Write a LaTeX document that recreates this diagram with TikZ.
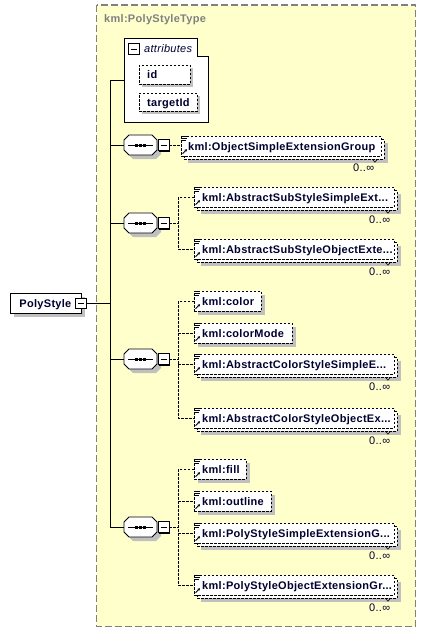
\documentclass[tikz,border=0pt]{standalone}
\usepackage{fontspec}
\setmainfont{Liberation Sans}[LetterSpace=2.7]
\usetikzlibrary{shadows,calc,arrows.meta}
\definecolor{bgyellow}{RGB}{255,255,204}
\definecolor{shgray}{RGB}{192,192,192}
\definecolor{txt}{RGB}{0,0,48}
\definecolor{framegray}{RGB}{128,128,128}
\tikzset{
  base/.style={font=\fontsize{11}{13}\selectfont\bfseries, text=txt, text height=9pt, text depth=1pt},
  dsh/.style={dash pattern=on 2.5pt off 1.5pt},
  shad/.style={general shadow={shadow xshift=#1, shadow yshift=-#1, fill=shgray, draw=none}},
  elem/.style={base, draw, dsh, fill=white, anchor=west, minimum height=20pt, inner sep=0pt,
    text width=#1, align=left, shad=4pt},
  melem/.style={base, draw, dsh, fill=white, anchor=west, minimum height=20pt, inner sep=0pt,
    text width=#1, align=left, shad=7pt,
    general shadow={shadow xshift=3pt, shadow yshift=-3pt, fill=white, draw=black, dsh}},
  attel/.style={base, draw, dsh, fill=white, anchor=west, inner sep=0pt, text width=#1, align=left, shad=3pt},
  mult/.style={font=\fontsize{11}{13}\selectfont, text=txt, anchor=base east, inner sep=0pt},
  conn/.style={dsh, line width=0.9pt},
  trunk/.style={line width=1pt},
  seqpic/.pic={
    \fill[shgray] (9,-6)--(32,-6)--(37,-1)--(37,9)--(32,14)--(9,14)--(4,9)--(4,-1)--cycle;
    \draw[fill=white, line width=0.8pt] (5,-10)--(28,-10)--(33,-5)--(33,5)--(28,10)--(5,10)--(0,5)--(0,-5)--cycle;
    \draw[line width=0.8pt] (4,0)--(29,0);
    \fill (11,-1.5) rectangle ++(3,3);
    \fill (15,-1.5) rectangle ++(3,3);
    \fill (19,-1.5) rectangle ++(3,3);
    \fill (35,-4.5) rectangle (46,6.5);
    \draw[fill=white, line width=0.8pt] (34,-5.5) rectangle (45,5.5);
    \draw[line width=0.8pt] (36.5,0)--(42.5,0);
    \coordinate (-in) at (0,0);
    \coordinate (-out) at (45,0);
  }
}
\newcommand\elicons[1]{%
  \draw[line width=0.7pt] ([xshift=1pt,yshift=-0.8pt]#1.north west) -- ++(5,0);
  \draw[line width=0.7pt] ([xshift=1pt,yshift=-2.8pt]#1.north west) -- ++(5,0);
  \draw[line width=0.7pt] ([xshift=1pt,yshift=-4.8pt]#1.north west) -- ++(4,0);
  \draw[line width=0.8pt, -{Stealth[length=2.6pt,width=2.8pt]}] ([xshift=1.5pt,yshift=2.5pt]#1.south west) -- ++(4.5,-4.5);
}
\newcommand\notch[1]{%
  \draw[line width=0.6pt] ([xshift=-9pt,yshift=-3pt]#1.south east) -- ++(2.5,3) -- ++(2.5,-3);
}
\begin{document}
\begin{tikzpicture}[x=1pt,y=-1pt]
\useasboundingbox (0,0) rectangle (426,632);
% outer type frame
\draw[fill=bgyellow, draw=framegray, line width=1.3pt, dash pattern=on 7pt off 3pt] (96.5,5) rectangle (415.5,626.5);
\node[font=\fontsize{11}{13}\selectfont\bfseries, text=framegray, anchor=base west, inner sep=0pt] (title) at (104,22) {kml:PolyStyleType};

% attributes box
\draw[fill=white, line width=0.9pt] (124,38) -- (197,38) -- (197,56) -- (208,56) -- (208,122) -- (124,122) -- cycle;
\draw[fill=white, line width=0.9pt] (128,43.5) rectangle (139,54.5);
\draw[line width=0.8pt] (130.5,49) -- (136.5,49);
\node[font=\fontsize{11}{13}\selectfont\itshape, text=txt, anchor=base west, inner sep=0pt] (attrlbl) at (144,52.5) {attributes};
\coordinate (attr) at (124,80);
\node[attel=51pt, minimum height=19pt] (aid) at (139,74.5) {\hspace*{8pt}id};
\node[attel=58pt, minimum height=18pt] (atid) at (139,102) {\hspace*{8pt}targetId};

% root element
\node[base, draw, fill=white, anchor=west, minimum height=20pt, text width=71pt, inner sep=0pt, align=left, shad=4pt, line width=0.9pt] (ps) at (10,303) {\hspace*{9pt}PolyStyle};
\node[draw, fill=white, minimum size=10.5pt, inner sep=0pt, line width=0.9pt] (psm) at (81,303.5) {};
\draw[line width=0.8pt] ($(psm.center)+(-3,0)$) -- ($(psm.center)+(3,0)$);

% trunk
\coordinate (ttop) at (110,80);
\coordinate (tbot) at (110,527);
\coordinate (tps) at (110,303.5);
\draw[trunk] (ttop) -- (tbot);
\draw[trunk] (psm.east) -- (tps);
\draw[trunk] (ttop) -- (attr);

% sequences
\pic (s1) at (124,145) {seqpic};
\pic (s2) at (124,223) {seqpic};
\pic (s3) at (124,359) {seqpic};
\pic (s4) at (124,527) {seqpic};
\foreach \s in {s1,s2,s3,s4}{\draw[trunk] (\s-in -| ttop) -- (\s-in);}

% branch coordinates
\coordinate (b2) at (178,223);
\coordinate (b3) at (178,359);
\coordinate (b4) at (178,527);

% sequence 1
\node[melem=200pt] (e1) at (181,146) {\hspace*{7pt}kml:ObjectSimpleExtensionGroup};
\elicons{e1}\notch{e1}
\node[mult] (m1) at ($(e1.south east)+(-7,15)$) {0..∞};
\draw[conn] (s1-out) -- (s1-out -| e1.west);

% sequence 2
\node[melem=200pt] (e2) at (194,197) {\hspace*{8pt}kml:AbstractSubStyleSimpleExt...};
\node[melem=200pt] (e3) at (194,249) {\hspace*{8pt}kml:AbstractSubStyleObjectExte...};
\foreach \e in {e2,e3}{\elicons{\e}\notch{\e}\node[mult] at ($(\e.south east)+(-4,16)$) {0..∞};}
\draw[conn] (s2-out) -- (b2);
\draw[conn] (e2.west) -- (e2.west -| b2) -- (e3.west -| b2) -- (e3.west);

% sequence 3
\node[elem=67pt] (e4) at (194,301) {\hspace*{8pt}kml:color};
\node[elem=98pt] (e5) at (194,333) {\hspace*{8pt}kml:colorMode};
\node[melem=200pt] (e6) at (194,364) {\hspace*{8pt}kml:AbstractColorStyleSimpleE...};
\node[melem=200pt] (e7) at (194,418) {\hspace*{8pt}kml:AbstractColorStyleObjectEx...};
\foreach \e in {e4,e5}{\elicons{\e}}
\foreach \e in {e6,e7}{\elicons{\e}\notch{\e}\node[mult] at ($(\e.south east)+(-4,16)$) {0..∞};}
\draw[conn] (s3-out) -- (b3);
\draw[conn] (e4.west) -- (e4.west -| b3) -- (e7.west -| b3) -- (e7.west);
\draw[conn] (e5.west -| b3) -- (e5.west);
\draw[conn] (e6.west -| b3) -- (e6.west);

% sequence 4
\node[elem=52pt] (e8) at (194,469) {\hspace*{8pt}kml:fill};
\node[elem=77pt] (e9) at (194,501) {\hspace*{8pt}kml:outline};
\node[melem=200pt] (e10) at (194,533) {\hspace*{8pt}kml:PolyStyleSimpleExtensionG...};
\node[melem=200pt] (e11) at (194,585) {\hspace*{8pt}kml:PolyStyleObjectExtensionGr...};
\foreach \e in {e8,e9}{\elicons{\e}}
\foreach \e in {e10,e11}{\elicons{\e}\notch{\e}\node[mult] at ($(\e.south east)+(-4,16)$) {0..∞};}
\draw[conn] (s4-out) -- (b4);
\draw[conn] (e8.west) -- (e8.west -| b4) -- (e11.west -| b4) -- (e11.west);
\draw[conn] (e9.west -| b4) -- (e9.west);
\draw[conn] (e10.west -| b4) -- (e10.west);
\end{tikzpicture}
\end{document}
